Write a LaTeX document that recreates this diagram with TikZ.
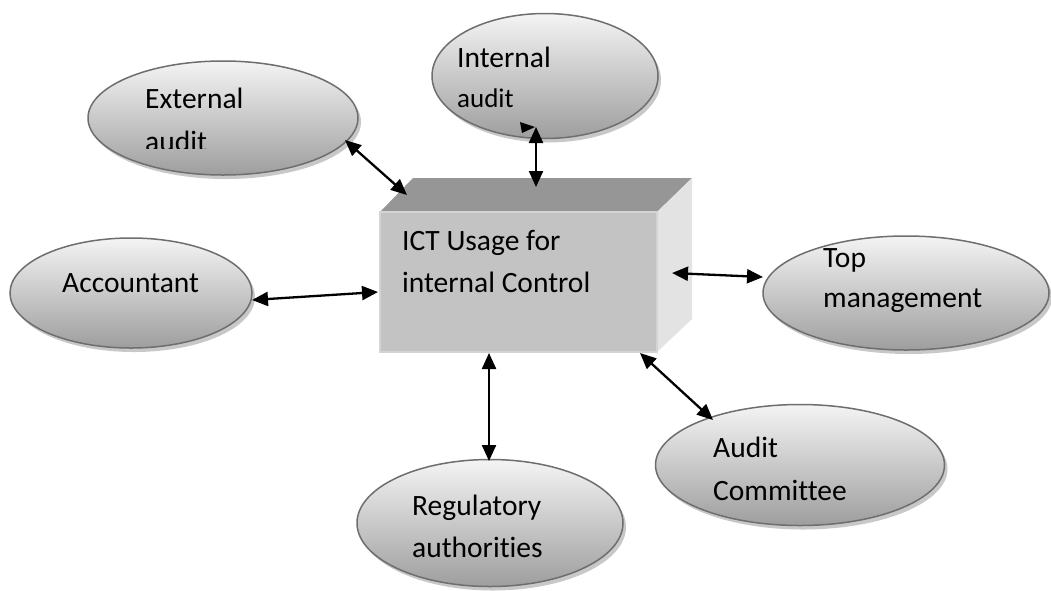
\documentclass[tikz,border=0pt]{standalone}
\usepackage{fontspec}
\setmainfont{Carlito}[Ligatures={NoCommon}]
\usetikzlibrary{shapes.geometric,arrows.meta}
\definecolor{ellTop}{RGB}{244,244,244}
\definecolor{ellBot}{RGB}{158,158,158}
\definecolor{ellLine}{RGB}{110,110,110}
\definecolor{shadowC}{RGB}{200,200,200}
\definecolor{boxFront}{RGB}{195,195,195}
\definecolor{boxFrontLine}{RGB}{212,212,212}
\definecolor{boxTop}{RGB}{150,150,150}
\definecolor{boxSide}{RGB}{227,227,227}
\tikzset{
  actor/.style={ellipse, draw=ellLine, line width=1.5pt, inner sep=0pt,
    top color=ellTop, bottom color=ellBot},
  actorshadow/.style={ellipse, fill=shadowC, inner sep=0pt},
  lbl/.style={anchor=base west, inner sep=0pt, align=left, text=black},
  link/.style={line width=2.3pt, {Triangle[length=16pt,width=14pt]}-{Triangle[length=16pt,width=14pt]}}
}
\begin{document}
\begin{tikzpicture}[x=1pt,y=-1pt]
\useasboundingbox[fill=white] (0,0) rectangle (1051,590);
% shadows
\foreach \cx/\cy/\w/\h in {223/118/270/114, 545/76/226/125, 131/293/242/110, 906/293/286/114, 800/465/289/121, 490/523/266/127}
  \node[actorshadow, minimum width=\w pt, minimum height=\h pt] at (\cx+3,\cy+4) {};
% ellipses
\node[actor, minimum width=270pt, minimum height=114pt] (ext) at (223,118) {};
\node[actor, minimum width=226pt, minimum height=125pt] (int) at (545,76) {};
\node[actor, minimum width=242pt, minimum height=110pt] (acc) at (131,293) {};
\node[actor, minimum width=286pt, minimum height=114pt] (top) at (906,293) {};
\node[actor, minimum width=289pt, minimum height=121pt] (aud) at (800,465) {};
\node[actor, minimum width=266pt, minimum height=127pt] (reg) at (490,523) {};
% 3D box
\fill[boxTop] (380,212) -- (413,178) -- (692,178) -- (657,212) -- cycle;
\fill[boxSide] (657,212) -- (692,178) -- (692,319) -- (657,352) -- cycle;
\node[draw=boxFrontLine, line width=1.5pt, fill=boxFront, minimum width=277pt, minimum height=140pt, inner sep=0pt] (ict) at (518.5,282) {};
% labels (anchor = baseline of last line)
\begin{scope}
  \clip (100,60) rectangle (360,148.5);
  \node[lbl, font=\fontsize{29.5}{43}\selectfont] (extT) at (145,151) {External\\audit};
\end{scope}
\node[lbl, font=\fontsize{29.5}{40}\selectfont] (intT) at (457,107) {Internal\\{\fontsize{27}{40}\selectfont audit}};
\node[lbl, font=\fontsize{29.5}{40}\selectfont] (accT) at (62,292) {Accountant};
\node[lbl, font=\fontsize{29.5}{40}\selectfont] (topT) at (823,307) {Top\\management};
\node[lbl, font=\fontsize{29.5}{43}\selectfont] (audT) at (713,500) {Audit\\Committee};
\node[lbl, font=\fontsize{29.5}{42}\selectfont] (regT) at (412,557) {Regulatory\\authorities};
\node[lbl, font=\fontsize{29.5}{42}\selectfont] (ictT) at (402,292) {ICT Usage for\\internal Control};
% connectors
\draw[link] ([shift={(122,22)}]ext.center) -- ([shift={(-111.5,-87)}]ict.center);
\draw[link] ([shift={(-9,51)}]int.center) -- ([shift={(17.5,-95)}]ict.center);
\draw[link] ([shift={(121,7)}]acc.center) -- ([shift={(-140.5,10)}]ict.center);
\draw[link] ([shift={(-143,-16)}]top.center) -- ([shift={(153.5,-9)}]ict.center);
\draw[link] ([shift={(-87,-45)}]aud.center) -- ([shift={(121.5,71)}]ict.center);
\draw[link] ([shift={(-1,-62)}]reg.center) -- ([shift={(-29.5,71)}]ict.center);
\fill[black] ([shift={(-25,46)}]int.center) -- ([shift={(-10,51)}]int.center) -- ([shift={(-23,57)}]int.center) -- cycle;
\end{tikzpicture}
\end{document}
